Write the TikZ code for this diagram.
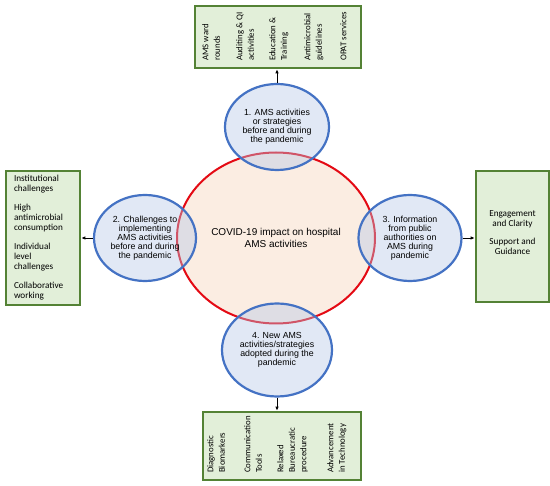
\documentclass[tikz,border=0pt]{standalone}
\usepackage{fontspec}
\setmainfont{Liberation Sans}
\newfontfamily\boxfont{Carlito}
\usetikzlibrary{shapes.geometric,arrows.meta}
\definecolor{redline}{RGB}{228,10,20}
\definecolor{peach}{RGB}{251,237,226}
\definecolor{blueline}{RGB}{68,114,196}
\definecolor{bluefill}{RGB}{180,199,231}
\definecolor{greenfill}{RGB}{226,239,217}
\definecolor{greenline}{RGB}{84,130,53}
\tikzset{
  hub/.style={ellipse, draw=redline, line width=2pt, fill=peach, inner sep=0pt,
    align=center, font=\fontsize{10}{11.5}\selectfont},
  ell/.style={ellipse, draw=blueline, line width=2.2pt, fill=bluefill, fill opacity=0.4,
    text opacity=1, draw opacity=1, inner sep=0pt, align=center,
    font=\fontsize{8.8}{9}\selectfont},
  gbox/.style={rectangle, draw=greenline, line width=2.6pt, fill=greenfill, inner sep=0pt},
  gtxt/.style={font=\boxfont\fontsize{9.2}{10}\selectfont},
  rtxt/.style={font=\boxfont\fontsize{8.8}{11.5}\selectfont, rotate=90, anchor=north west,
    align=left, inner sep=0pt},
  conn/.style={-{Latex[length=4pt,width=3.5pt]}, line width=0.8pt, black}
}
\begin{document}
\begin{tikzpicture}[x=1pt,y=-1pt]
\useasboundingbox (0,0) rectangle (550,486);
\fill[white] (0,0) rectangle (550,486);

% central hub
\node[hub, minimum width=198pt, minimum height=171pt] (hub) at (276,238) {COVID-19 impact on hospital\\AMS activities};

% blue ellipses
\node[ell, minimum width=104pt, minimum height=86pt] (e1) at (277,127) {1. AMS activities\\or strategies\\before and during\\the pandemic};
\node[ell, minimum width=102pt, minimum height=86pt] (e2) at (145,238) {2. Challenges to\\implementing\\AMS activities\\before and during\\the pandemic};
\node[ell, minimum width=103pt, minimum height=86pt] (e3) at (410,238) {3. Information\\from public\\authorities on\\AMS during\\pandemic};
\node[ell, minimum width=110pt, minimum height=93pt] (e4) at (277,350) {4. New AMS\\activities/strategies\\adopted during the\\pandemic};

% green boxes
\node[gbox, minimum width=166pt, minimum height=62pt] (tb) at (278,37) {};
\node[gbox, minimum width=74pt, minimum height=134pt, text width=58pt, align=left, inner xsep=8pt, gtxt] (lb) at (43,238)
  {Institutional\\challenges\\[9pt]High\\antimicrobial\\consumption\\[9pt]Individual\\level\\challenges\\[9pt]Collaborative\\working};
\node[gbox, minimum width=73pt, minimum height=131pt, align=center, gtxt] (rb) at (512.5,236.5)
  {Engagement\\and Clarity\\[8pt]Support and\\Guidance\\[-2pt]};
\node[gbox, minimum width=158pt, minimum height=68pt] (bb) at (282,446) {};

% rotated texts in top box
\node[rtxt] (t1) at (202,61) {AMS ward\\rounds};
\node[rtxt] (t2) at (236,61) {Auditing \& QI\\activities};
\node[rtxt] (t3) at (269,61) {Education \&\\Training};
\node[rtxt] (t4) at (304,61) {Antimicrobial\\guidelines};
\node[rtxt] (t5) at (340,61) {OPAT services};

% rotated texts in bottom box
\node[rtxt] (b1) at (207,473) {Diagnostic\\Biomarkers};
\node[rtxt] (b2) at (244,473) {Communication\\Tools};
\node[rtxt] (b3) at (277,473) {Relaxed\\Bureaucratic\\procedure};
\node[rtxt] (b4) at (327,473) {Advancement\\in Technology};

% connectors
\draw[conn] (e1.north) -- (e1.north |- tb.south);
\draw[conn] (e2.west) -- (e2.west -| lb.east);
\draw[conn] (e3.east) -- (e3.east -| rb.west);
\draw[conn] (e4.south) -- (e4.south |- bb.north);
\end{tikzpicture}
\end{document}
